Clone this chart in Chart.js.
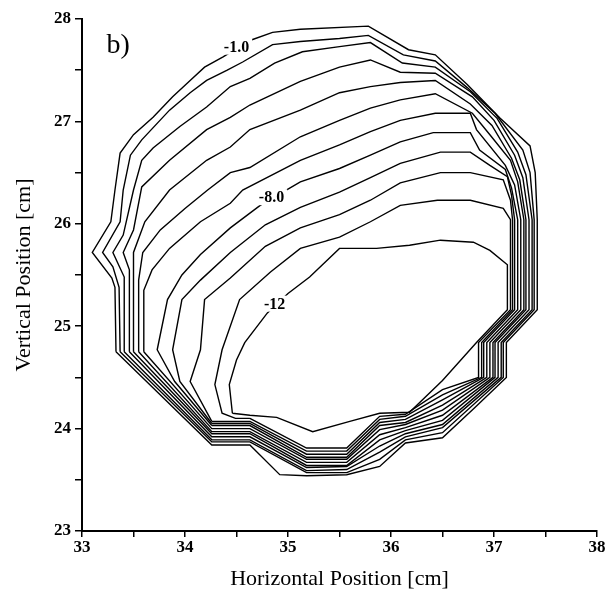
<!DOCTYPE html>
<html>
<head>
<meta charset="utf-8">
<script src="https://cdn.jsdelivr.net/npm/chart.js@4.4.1/dist/chart.umd.min.js"></script>
<style>
html,body{margin:0;padding:0;background:#fff;}
#wrap{width:608px;height:592px;}
</style>
</head>
<body>
<div id="wrap"><canvas id="c" width="608" height="592"></canvas></div>
<script>
// Contour levels (same unit as labels)
const levels = [-1, -2, -3, -4, -5, -6, -7, -8, -9, -10, -11, -12];

// Contour polylines (cm)
const c1x = [33.33,33.32,33.29,33.10,33.28,33.32,33.37,33.50,33.69,33.88,34.05,34.19,34.37,34.63,34.85,35.12,35.78,36.17,36.43,36.74,37.06,37.35,37.40,37.42,37.42,37.12,37.12,36.82,36.50,36.14,35.89,35.57,35.18,34.92,34.63,34.26];
const c1y = [24.75,25.38,25.47,25.72,26.02,26.33,26.69,26.87,27.04,27.24,27.40,27.53,27.63,27.79,27.87,27.90,27.93,27.70,27.65,27.36,27.03,26.76,26.50,26.04,25.16,24.84,24.50,24.21,23.91,23.86,23.63,23.55,23.54,23.55,23.84,23.84];
const c2x = [33.37,33.36,33.30,33.20,33.37,33.40,33.47,33.58,33.85,34.05,34.21,34.41,34.56,34.85,35.12,35.50,35.78,36.12,36.43,36.74,37.01,37.28,37.35,37.39,37.39,37.09,37.09,36.50,36.14,35.89,35.57,35.18,34.63,34.26];
const c2y = [24.75,25.38,25.58,25.72,26.02,26.33,26.67,26.82,27.11,27.28,27.40,27.50,27.58,27.75,27.78,27.81,27.84,27.65,27.59,27.33,27.08,26.72,26.50,26.04,25.16,24.84,24.50,23.96,23.89,23.70,23.57,23.57,23.87,23.87];
const c3x = [33.41,33.41,33.30,33.40,33.50,33.58,33.69,33.95,34.21,34.44,34.63,34.87,35.14,35.50,35.80,36.11,36.43,36.77,37.03,37.23,37.31,37.37,37.37,37.07,37.07,36.50,36.14,35.89,35.57,35.18,34.63,34.26];
const c3y = [24.75,25.48,25.72,25.89,26.33,26.62,26.74,26.95,27.14,27.34,27.42,27.57,27.68,27.73,27.77,27.57,27.53,27.29,27.03,26.70,26.48,26.04,25.16,24.84,24.50,24.01,23.92,23.77,23.60,23.59,23.89,23.89];
const c4x = [33.46,33.46,33.40,33.50,33.58,33.85,34.21,34.44,34.63,35.12,35.50,35.80,36.09,36.43,36.79,37.00,37.20,37.28,37.34,37.34,37.04,37.04,36.50,36.14,35.89,35.57,35.18,34.63,34.26];
const c4y = [24.75,25.55,25.72,25.94,26.36,26.62,26.92,27.04,27.16,27.39,27.53,27.60,27.48,27.47,27.24,27.01,26.67,26.45,26.04,25.16,24.84,24.50,24.04,23.95,23.83,23.63,23.62,23.92,23.92];
const c5x = [33.50,33.50,33.50,33.61,33.85,34.21,34.44,34.63,35.12,35.50,35.80,36.09,36.43,36.77,36.98,37.17,37.25,37.31,37.31,37.01,37.01,36.50,36.14,35.89,35.57,35.18,34.63,34.26];
const c5y = [24.75,25.45,25.72,26.02,26.33,26.62,26.75,26.92,27.11,27.28,27.34,27.38,27.40,27.17,26.96,26.64,26.43,26.04,25.16,24.84,24.50,24.08,23.98,23.89,23.64,23.64,23.95,23.95];
const c6x = [33.55,33.55,33.59,33.76,34.00,34.22,34.44,34.63,35.12,35.50,35.80,36.09,36.43,36.79,36.96,37.16,37.23,37.29,37.29,36.99,36.99,36.50,36.14,35.89,35.57,35.18,34.63,34.26];
const c6y = [24.75,25.45,25.72,25.94,26.15,26.33,26.50,26.55,26.85,27.01,27.13,27.21,27.27,27.08,26.87,26.62,26.41,26.04,25.16,24.84,24.50,24.13,24.01,23.94,23.67,23.67,23.97,23.97];
const c7x = [33.60,33.60,33.68,33.85,34.15,34.44,34.56,35.12,35.50,35.80,36.09,36.43,36.77,36.83,37.11,37.20,37.26,37.26,36.96,36.96,36.50,36.14,35.89,35.57,35.18,34.63,34.26];
const c7y = [24.75,25.35,25.55,25.76,26.02,26.20,26.33,26.62,26.77,26.90,27.01,27.08,27.08,26.92,26.57,26.38,26.04,25.16,24.84,24.50,24.18,24.04,23.99,23.70,23.70,24.00,24.00];
const c8x = [34.26,33.90,33.73,33.83,33.97,34.15,34.44,34.73,35.12,35.50,35.80,36.09,36.41,36.77,36.86,37.11,37.17,37.23,37.23,36.93,36.93,36.50,36.14,35.89,35.57,35.18,34.63];
const c8y = [24.03,24.46,24.77,25.26,25.50,25.70,25.96,26.18,26.41,26.54,26.67,26.80,26.89,26.89,26.72,26.53,26.35,26.04,25.16,24.84,24.50,24.23,24.06,24.03,23.72,23.72,24.03];
const c9x = [34.26,33.95,33.88,33.97,34.15,34.44,34.78,35.12,35.50,35.80,36.09,36.48,36.77,36.96,37.13,37.17,37.20,37.20,36.90,36.90,36.50,36.14,35.89,35.57,35.18,34.63];
const c9y = [24.05,24.46,24.77,25.26,25.45,25.72,25.99,26.16,26.31,26.45,26.59,26.70,26.70,26.57,26.46,26.28,26.04,25.16,24.84,24.50,24.28,24.09,24.06,23.75,23.75,24.05];
const c10x = [34.26,34.05,34.15,34.19,34.44,34.78,35.12,35.50,35.80,36.09,36.48,36.77,37.09,37.16,37.18,37.18,36.88,36.88,36.50,36.14,35.89,35.57,35.18,34.63];
const c10y = [24.07,24.46,24.77,25.26,25.47,25.78,25.96,26.09,26.23,26.40,26.50,26.50,26.43,26.23,26.04,25.16,24.84,24.50,24.33,24.12,24.09,23.78,23.78,24.07];
const c11x = [34.63,34.49,34.36,34.29,34.36,34.53,34.83,35.12,35.50,35.80,36.09,36.45,36.77,37.09,37.16,37.16,36.85,36.85,36.50,36.14,35.89,35.57,35.18];
const c11y = [24.10,24.10,24.15,24.43,24.77,25.26,25.53,25.76,25.87,26.02,26.18,26.23,26.23,26.15,26.04,25.16,24.84,24.50,24.38,24.14,24.12,23.81,23.81];
const c12x = [34.46,34.43,34.50,34.58,34.80,35.00,35.21,35.50,35.86,36.18,36.48,36.80,36.96,37.13,37.13,36.83,36.50,36.18,35.89,35.60,35.24,34.89,34.63];
const c12y = [24.15,24.43,24.67,24.84,25.13,25.32,25.48,25.76,25.76,25.79,25.84,25.82,25.74,25.60,25.16,24.84,24.47,24.16,24.15,24.07,23.97,24.11,24.13];

// Contour labels
const labelText = ['-1.0', '-8.0', '-12'];
const labelX = [34.50, 34.84, 34.87];
const labelY = [27.73, 26.26, 25.22];

// Panel tag
const panelText = 'b)';
const panelX = 33.35;
const panelY = 27.74;

// Axis ticks
const xMin = 33, xMax = 38, yMin = 23, yMax = 28;
const minorStep = 0.5;

const xs = [c1x,c2x,c3x,c4x,c5x,c6x,c7x,c8x,c9x,c10x,c11x,c12x];
const ys = [c1y,c2y,c3y,c4y,c5y,c6y,c7y,c8y,c9y,c10y,c11y,c12y];

const datasets = levels.map((lv, i) => {
  const pts = xs[i].map((x, j) => ({x: x, y: ys[i][j]}));
  pts.push({x: xs[i][0], y: ys[i][0]}); // close the contour
  return {
    label: String(lv),
    data: pts,
    showLine: true,
    borderColor: '#000',
    borderWidth: 1.4,
    pointRadius: 0,
    fill: false,
    tension: 0
  };
});

const serif = "'Liberation Serif', 'Times New Roman', serif";

const labelPlugin = {
  id: 'contourLabels',
  afterDatasetsDraw(chart) {
    const ctx = chart.ctx;
    const xs_ = chart.scales.x, ys_ = chart.scales.y;
    ctx.save();
    ctx.font = 'bold 16px ' + serif;
    ctx.textAlign = 'center';
    ctx.textBaseline = 'middle';
    labelText.forEach((t, i) => {
      const px = xs_.getPixelForValue(labelX[i]);
      const py = ys_.getPixelForValue(labelY[i]);
      const w = ctx.measureText(t).width;
      ctx.fillStyle = '#fff';
      ctx.fillRect(px - w / 2 - 3, py - 8, w + 6, 16);
      ctx.fillStyle = '#000';
      ctx.fillText(t, px, py + 1);
    });
    ctx.font = '28px ' + serif;
    ctx.fillStyle = '#000';
    ctx.fillText(panelText, xs_.getPixelForValue(panelX), ys_.getPixelForValue(panelY));
    ctx.restore();
  }
};

new Chart(document.getElementById('c'), {
  type: 'scatter',
  data: { datasets: datasets },
  options: {
    responsive: false,
    animation: false,
    layout: { padding: { left: 0, right: 11, top: 19, bottom: 0 } },
    plugins: { legend: { display: false }, tooltip: { enabled: false } },
    scales: {
      x: {
        type: 'linear', min: xMin, max: xMax,
        ticks: {
          stepSize: minorStep, autoSkip: false, maxRotation: 0, padding: 0,
          color: '#000',
          font: { family: serif, size: 17, weight: 'bold' },
          callback: v => Number.isInteger(v) ? String(v) : ''
        },
        grid: { drawOnChartArea: false, drawTicks: true, tickLength: 6, color: '#000', lineWidth: 1.5 },
        border: { display: true, color: '#000', width: 2 },
        title: { display: true, text: 'Horizontal Position [cm]', color: '#000',
                 font: { family: serif, size: 22 }, padding: { top: 0, bottom: 0 } },
        afterFit: s => { s.height = 61; }
      },
      y: {
        type: 'linear', min: yMin, max: yMax,
        ticks: {
          stepSize: minorStep, autoSkip: false, padding: 4,
          color: '#000',
          font: { family: serif, size: 17, weight: 'bold' },
          callback: v => Number.isInteger(v) ? String(v) : ''
        },
        grid: { drawOnChartArea: false, drawTicks: true, tickLength: 7, color: '#000', lineWidth: 1.5 },
        border: { display: true, color: '#000', width: 2 },
        title: { display: true, text: 'Vertical Position [cm]', color: '#000',
                 font: { family: serif, size: 22 }, padding: { top: 11, bottom: 0 } },
        afterFit: s => { s.width = 82; }
      }
    }
  },
  plugins: [labelPlugin]
});
</script>
</body>
</html>
